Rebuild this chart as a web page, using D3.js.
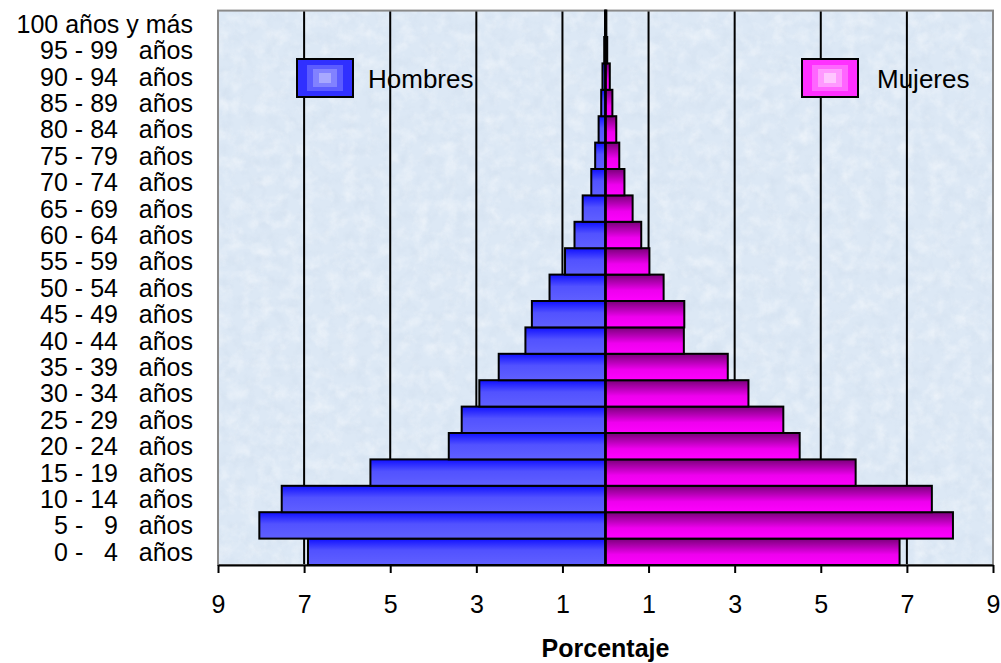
<!DOCTYPE html>
<html>
<head>
<meta charset="utf-8">
<script src="https://cdn.jsdelivr.net/npm/d3@7"></script>
<style>
  html, body { margin: 0; padding: 0; background: #ffffff; }
  svg { display: block; font-family: "Liberation Sans", Arial, sans-serif; }
</style>
</head>
<body>
<svg id="chart" width="1001" height="663"></svg>
<script>
// ---- data (bottom to top) ----
const categories = [
  "0 -   4   años", "5 -   9   años", "10 - 14   años", "15 - 19   años",
  "20 - 24   años", "25 - 29   años", "30 - 34   años", "35 - 39   años",
  "40 - 44   años", "45 - 49   años", "50 - 54   años", "55 - 59   años",
  "60 - 64   años", "65 - 69   años", "70 - 74   años", "75 - 79   años",
  "80 - 84   años", "85 - 89   años", "90 - 94   años", "95 - 99   años",
  "100 años y más"
];
const hombres = [6.91, 8.04, 7.52, 5.46, 3.64, 3.34, 2.93, 2.48, 1.86, 1.71, 1.30,
                 0.94, 0.72, 0.53, 0.33, 0.24, 0.16, 0.10, 0.07, 0.03, 0.01];
const mujeres = [6.83, 8.07, 7.58, 5.81, 4.51, 4.13, 3.32, 2.84, 1.82, 1.83, 1.35,
                 1.02, 0.83, 0.63, 0.44, 0.32, 0.25, 0.16, 0.10, 0.04, 0.02];
const tickValues = [-9, -7, -5, -3, -1, 1, 3, 5, 7, 9];
const gridValues = [-7, -5, -3, -1, 1, 3, 5, 7];
const seriesNames = ["Hombres", "Mujeres"];
const axisTitle = "Porcentaje";

// ---- layout ----
const svg = d3.select("#chart");
const L = 218, R = 993, T = 10.6, B = 565;

const x = d3.scaleLinear().domain([-9, 9]).range([L, R]);
const y = d3.scaleBand().domain(categories.slice().reverse()).range([T, B]).padding(0);

const defs = svg.append("defs");
const gM = defs.append("linearGradient").attr("id", "gradM").attr("x1", 0).attr("y1", 0).attr("x2", 0).attr("y2", 1);
gM.append("stop").attr("offset", "0%").attr("stop-color", "#1010ff");
gM.append("stop").attr("offset", "45%").attr("stop-color", "#5252ff");
gM.append("stop").attr("offset", "100%").attr("stop-color", "#6060ff");
const gF = defs.append("linearGradient").attr("id", "gradF").attr("x1", 0).attr("y1", 0).attr("x2", 0).attr("y2", 1);
gF.append("stop").attr("offset", "0%").attr("stop-color", "#7a007a");
gF.append("stop").attr("offset", "60%").attr("stop-color", "#ee00ee");
gF.append("stop").attr("offset", "100%").attr("stop-color", "#ff00ff");

const filt = defs.append("filter").attr("id", "tex").attr("x", 0).attr("y", 0).attr("width", 1).attr("height", 1);
filt.append("feTurbulence").attr("type", "fractalNoise").attr("baseFrequency", "0.07").attr("numOctaves", 4).attr("seed", 11).attr("result", "n");
filt.append("feColorMatrix").attr("in", "n").attr("type", "matrix")
  .attr("values", "0 0 0 0 1  0 0 0 0 1  0 0 0 0 1  1.4 0 0 0 -0.6");
const filt2 = defs.append("filter").attr("id", "tex2").attr("x", 0).attr("y", 0).attr("width", 1).attr("height", 1);
filt2.append("feTurbulence").attr("type", "fractalNoise").attr("baseFrequency", "0.09").attr("numOctaves", 3).attr("seed", 23).attr("result", "n");
filt2.append("feColorMatrix").attr("in", "n").attr("type", "matrix")
  .attr("values", "0 0 0 0 0.55  0 0 0 0 0.65  0 0 0 0 0.78  1.4 0 0 0 -0.62");

// plot background
svg.append("rect").attr("x", L).attr("y", T).attr("width", R - L).attr("height", B - T)
  .attr("fill", "#dce8f5");
svg.append("rect").attr("x", L).attr("y", T).attr("width", R - L).attr("height", B - T)
  .attr("filter", "url(#tex)").attr("opacity", 0.6);
svg.append("rect").attr("x", L).attr("y", T).attr("width", R - L).attr("height", B - T)
  .attr("filter", "url(#tex2)").attr("opacity", 0.35);

// gridlines
svg.append("g").selectAll("line").data(gridValues).join("line")
  .attr("x1", d => x(d)).attr("x2", d => x(d)).attr("y1", T).attr("y2", B)
  .attr("stroke", "#000").attr("stroke-width", 2);

// plot border
svg.append("rect").attr("x", L).attr("y", T).attr("width", R - L).attr("height", B - T)
  .attr("fill", "none").attr("stroke", "#8a8a8a").attr("stroke-width", 2);

// legend
function legendBox(x0, y0, w, h, colors) {
  const g = svg.append("g");
  const insets = [[0, 0], [10, 6], [16, 10], [22, 14]];
  insets.forEach((ins, i) => {
    g.append("rect").attr("x", x0 + ins[0]).attr("y", y0 + ins[1])
      .attr("width", w - 2 * ins[0]).attr("height", h - 2 * ins[1]).attr("fill", colors[i]);
  });
  g.append("rect").attr("x", x0).attr("y", y0).attr("width", w).attr("height", h)
    .attr("fill", "none").attr("stroke", "#000").attr("stroke-width", 2);
}
legendBox(297, 59, 56, 38, ["#3030ff", "#5c5cff", "#8282ff", "#a8a8ff"]);
legendBox(802, 59, 56, 38, ["#ff30ff", "#ff66ff", "#ff99ff", "#ffc6ff"]);
svg.append("text").attr("x", 368).attr("y", 88).attr("font-size", 26).attr("fill", "#000").text(seriesNames[0]);
svg.append("text").attr("x", 877).attr("y", 88).attr("font-size", 26).attr("fill", "#000").text(seriesNames[1]);

// bars
const rows = categories.map((c, i) => ({ c, m: hombres[i], f: mujeres[i] }));
svg.append("g").selectAll("rect").data(rows).join("rect")
  .attr("x", d => x(-d.m)).attr("y", d => y(d.c))
  .attr("width", d => x(0) - x(-d.m)).attr("height", y.bandwidth())
  .attr("fill", "url(#gradM)").attr("stroke", "#000").attr("stroke-width", 2);
svg.append("g").selectAll("rect").data(rows).join("rect")
  .attr("x", x(0)).attr("y", d => y(d.c))
  .attr("width", d => x(d.f) - x(0)).attr("height", y.bandwidth())
  .attr("fill", "url(#gradF)").attr("stroke", "#000").attr("stroke-width", 2);

// center line
svg.append("line").attr("x1", x(0)).attr("x2", x(0)).attr("y1", T).attr("y2", B)
  .attr("stroke", "#000").attr("stroke-width", 2.5);

// x axis
const xAxis = d3.axisBottom(x).tickValues(tickValues).tickFormat(d => Math.abs(d))
  .tickSize(8).tickPadding(22).tickSizeOuter(0);
const ax = svg.append("g").attr("transform", `translate(0,${B})`).call(xAxis);
ax.select(".domain").attr("stroke", "#000").attr("stroke-width", 2);
ax.selectAll(".tick line").attr("stroke", "#000").attr("stroke-width", 2);
ax.selectAll(".tick text").attr("font-size", 25).attr("fill", "#000")
  .attr("font-family", "Liberation Sans, Arial, sans-serif");

// y labels
svg.append("g").selectAll("text").data(categories).join("text")
  .attr("x", 193).attr("y", d => y(d) + y.bandwidth() / 2 + 9)
  .attr("text-anchor", "end").attr("font-size", 25).attr("fill", "#000")
  .attr("xml:space", "preserve").style("white-space", "pre")
  .text(d => d);

// axis title
svg.append("text").attr("x", x(0)).attr("y", 657).attr("text-anchor", "middle")
  .attr("font-size", 25).attr("font-weight", "bold").attr("fill", "#000").text(axisTitle);
</script>
</body>
</html>
